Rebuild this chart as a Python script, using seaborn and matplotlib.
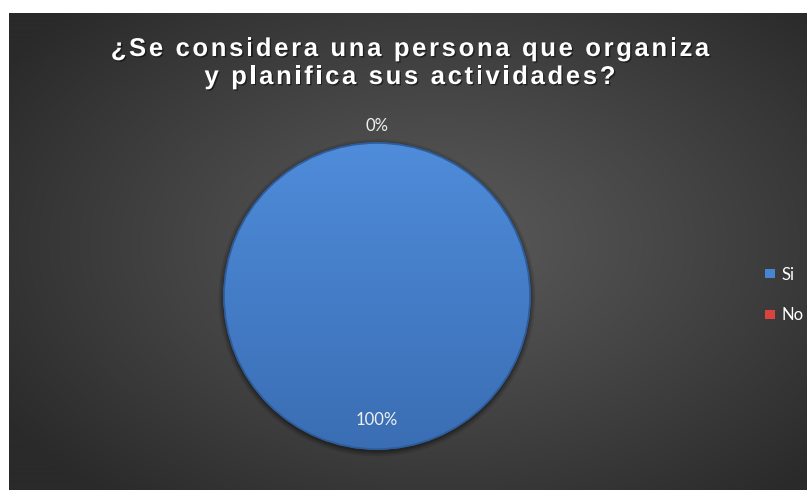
import numpy as np
import matplotlib
matplotlib.use("Agg")
import matplotlib.pyplot as plt
import matplotlib.patheffects as pe
from matplotlib.patches import Circle, Patch
import seaborn as sns

# Survey answers
categories = ["Si", "No"]
values = [100, 0]
title_lines = ["¿Se considera una persona que organiza",
               "y planifica sus actividades?"]

colors = ["#4784d3", "#d9443f"]

sns.set_theme(style="dark")
plt.rcParams["font.family"] = ["Lato", "DejaVu Sans"]

W, H = 807, 490
fig = plt.figure(figsize=(W / 100, H / 100), dpi=100, facecolor="white")

# ---- dark chart area with radial gradient ----
bg = fig.add_axes([9 / W, 0, 1 - 9 / W, 1 - 13 / H])
bw, bh = W - 9, H - 13
yy, xx = np.mgrid[0:bh, 0:bw]
d = np.sqrt(((xx - 430) / 520.0) ** 2 + ((yy - 230) / 330.0) ** 2)
t = np.clip(d, 0, 1) ** 1.1
c0 = np.array([0x5a, 0x5a, 0x5a]) / 255
c1 = np.array([0x2a, 0x2a, 0x2a]) / 255
img = c0[None, None, :] * (1 - t[..., None]) + c1[None, None, :] * t[..., None]
bg.imshow(img, aspect="auto", extent=[0, bw, bh, 0])
bg.set_axis_off()

# ---- pie ----
cx, cy, R = 377, 296, 153
lim = 1.06
side = 2 * R * lim
ax = fig.add_axes([(cx - side / 2) / W, (H - cy - side / 2) / H, side / W, side / H])

wedges, _ = ax.pie(values, colors=colors, startangle=90, counterclock=False,
                   radius=1.0, wedgeprops=dict(edgecolor="#2f5d9c", linewidth=1.2),
                   normalize=True)
ax.set_xlim(-lim, lim)
ax.set_ylim(-lim, lim)
ax.set_aspect("equal")
ax.set_axis_off()
for w in wedges:
    w.set_zorder(2)

# soft shadow under the disc
for r, a in [(1.035, 0.10), (1.022, 0.14), (1.01, 0.2)]:
    ax.add_patch(Circle((0, -0.012), r, color="black", alpha=a, lw=0, zorder=1))

# vertical shading on the blue disc
gy = np.linspace(0, 1, 300)[:, None] * np.ones((1, 10))
top = np.array([0x4f, 0x8c, 0xda]) / 255
bot = np.array([0x3a, 0x6e, 0xb4]) / 255
shade = top[None, None, :] * (1 - gy[..., None]) + bot[None, None, :] * gy[..., None]
im = ax.imshow(shade, extent=[-1, 1, -1, 1], aspect="auto", zorder=3)
im.set_clip_path(wedges[0])
ax.add_patch(Circle((0, 0), 1.0, fill=False, ec="#2f5d9c", lw=1.2, zorder=4))
ax.set_xlim(-lim, lim)
ax.set_ylim(-lim, lim)

# percentage labels from the values
total = float(sum(values))
for w, v in zip(wedges, values):
    mid = np.deg2rad((w.theta1 + w.theta2) / 2)
    dist = 0.81 if v > 0 else 1.11
    ax.text(dist * np.cos(mid), dist * np.sin(mid), f"{v / total * 100:.0f}%",
            ha="center", va="center", fontsize=12, color="#f0f0f0", zorder=6)

# ---- legend ----
handles = [Patch(facecolor=c, edgecolor="none") for c in colors]
ax.legend(handles, categories, loc="center left",
          bbox_to_anchor=(757 / W, 1 - 295 / H), bbox_transform=fig.transFigure,
          frameon=False, fontsize=12, labelcolor="white",
          handlelength=0.6, handleheight=0.45, handletextpad=0.35,
          labelspacing=1.5, borderpad=0)

# ---- letter-spaced title ----
renderer = fig.canvas.get_renderer()
title_kw = dict(fontsize=18.5, fontweight="bold", color="white",
                family=["Liberation Sans", "DejaVu Sans"])


def text_width(s):
    tx = fig.text(0, 0, s, **title_kw)
    bb = tx.get_window_extent(renderer)
    tx.remove()
    return bb.width


def tracked(s, xc, baseline, tracking):
    bar = text_width("|")
    offs = [0.0] + [text_width(s[:i] + "|") - bar for i in range(1, len(s))]
    full = text_width(s) + tracking * (len(s) - 1)
    x0 = xc - full / 2
    for i, ch in enumerate(s):
        if ch == " ":
            continue
        fig.text((x0 + offs[i] + i * tracking) / W, 1 - baseline / H, ch,
                 ha="left", va="baseline", **title_kw,
                 path_effects=[pe.withSimplePatchShadow(offset=(1, -1),
                                                         shadow_rgbFace="black",
                                                         alpha=0.5)])


tracked(title_lines[0], 410, 56, 2.6)
tracked(title_lines[1], 410, 84, 2.6)

fig.savefig("out.png", dpi=100, facecolor=fig.get_facecolor())
